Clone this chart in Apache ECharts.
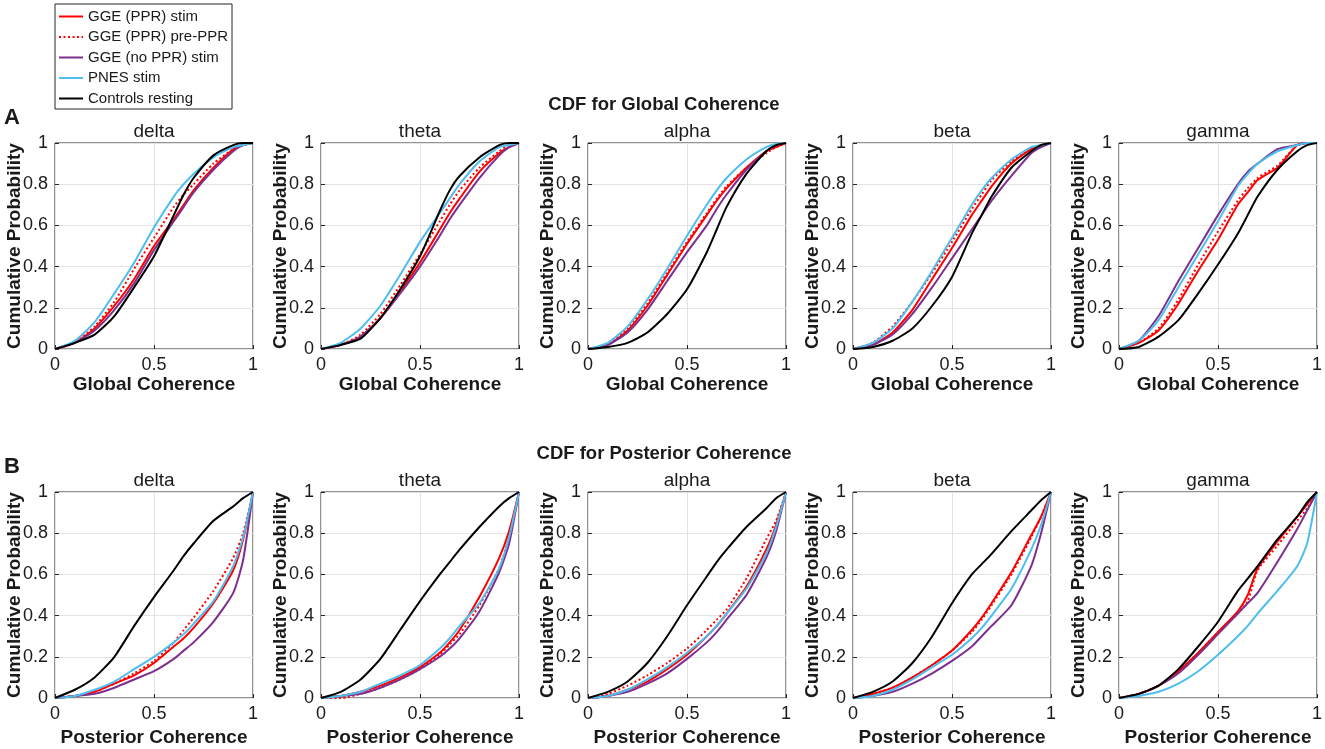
<!DOCTYPE html>
<html style="height: 100%">
    <head>
        <title>CDF for Global and Posterior Coherence</title>
        <meta charset="utf-8">
    </head>
    <body style="height: 100%; margin: 0; background: #fff">
        <div id="container" style="height: 100%"></div>

        <script type="text/javascript" src="https://cdn.jsdelivr.net/npm/echarts@6.0.0/dist/echarts.min.js"></script>
        <script type="text/javascript">
            // coherence values where each CDF was read
            var xs = [0, 0.1, 0.2, 0.3, 0.4, 0.5, 0.6, 0.65, 0.7, 0.8, 0.9, 0.95, 1];
            var bands = ['delta', 'theta', 'alpha', 'beta', 'gamma'];
            var groups = ['GGE (PPR) stim', 'GGE (PPR) pre-PPR', 'GGE (no PPR) stim', 'PNES stim', 'Controls resting'];
            var colors = ['#ff0000', '#ff0000', '#7e2f8e', '#4dbeee', '#000000'];
            var dashes = ['solid', [2, 2.5], 'solid', 'solid', 'solid'];
            var xTicks = [0, 0.5, 1];

            // row A: global coherence, one row per group (same order as groups)
            var globalDelta = [
                [0, .03, .10, .21, .34, .50, .63, .70, .77, .88, .97, .99, 1],
                [0, .03, .11, .23, .39, .54, .69, .75, .80, .90, .97, .99, 1],
                [0, .03, .09, .19, .32, .48, .62, .69, .76, .87, .96, .99, 1],
                [0, .04, .13, .27, .42, .59, .74, .80, .85, .93, .98, .99, 1],
                [0, .03, .07, .16, .30, .45, .65, .75, .83, .94, .99, 1, 1]
            ];
            var globalTheta = [
                [0, .02, .06, .15, .28, .42, .58, .66, .73, .86, .95, .98, 1],
                [0, .02, .07, .17, .31, .46, .62, .70, .77, .88, .96, .99, 1],
                [0, .02, .06, .15, .27, .40, .55, .63, .70, .83, .94, .98, 1],
                [0, .03, .10, .21, .36, .52, .66, .73, .80, .91, .98, .99, 1],
                [0, .02, .05, .15, .29, .45, .67, .77, .84, .93, .99, 1, 1]
            ];
            var globalAlpha = [
                [0, .02, .09, .21, .36, .51, .65, .72, .78, .88, .96, .98, 1],
                [0, .02, .10, .22, .37, .52, .66, .73, .79, .88, .95, .98, 1],
                [0, .02, .08, .19, .33, .47, .60, .68, .75, .87, .96, .99, 1],
                [0, .03, .11, .24, .39, .55, .70, .77, .83, .92, .98, .995, 1],
                [0, .01, .03, .08, .17, .29, .47, .58, .69, .85, .96, .99, 1]
            ];
            var globalBeta = [
                [0, .02, .08, .19, .34, .49, .65, .72, .79, .90, .97, .99, 1],
                [0, .03, .11, .23, .37, .52, .68, .75, .82, .91, .97, .99, 1],
                [0, .02, .07, .17, .30, .44, .58, .65, .72, .84, .95, .98, 1],
                [0, .03, .10, .23, .38, .54, .70, .77, .83, .92, .98, .99, 1],
                [0, .01, .04, .10, .21, .35, .56, .65, .74, .88, .96, .99, 1]
            ];
            var globalGamma = [
                [0, .03, .09, .22, .38, .53, .70, .76, .82, .88, .99, 1, 1],
                [0, .03, .10, .24, .41, .57, .72, .78, .83, .89, .99, 1, 1],
                [0, .04, .16, .33, .49, .65, .80, .86, .90, .97, .99, 1, 1],
                [0, .04, .14, .30, .46, .62, .79, .85, .90, .96, .99, 1, 1],
                [0, .01, .06, .14, .27, .41, .56, .65, .74, .87, .96, .99, 1]
            ];

            // row B: posterior coherence
            var posteriorDelta = [
                [0, .01, .03, .07, .11, .17, .25, .29, .34, .46, .62, .77, 1],
                [0, .01, .03, .07, .12, .18, .27, .33, .39, .52, .68, .80, 1],
                [0, .01, .02, .05, .09, .13, .19, .23, .27, .37, .51, .67, 1],
                [0, .01, .04, .08, .14, .20, .27, .31, .36, .47, .64, .78, 1],
                [0, .04, .10, .20, .35, .49, .62, .69, .75, .86, .93, .97, 1]
            ];
            var posteriorTheta = [
                [0, .01, .03, .06, .10, .15, .22, .27, .33, .49, .68, .81, 1],
                [0, .00, .02, .05, .09, .14, .21, .26, .31, .45, .63, .78, 1],
                [0, .01, .02, .05, .09, .14, .20, .24, .29, .42, .61, .75, 1],
                [0, .01, .03, .07, .11, .16, .24, .29, .35, .46, .63, .78, 1],
                [0, .03, .09, .19, .33, .47, .60, .66, .72, .83, .93, .97, 1]
            ];
            var posteriorAlpha = [
                [0, .01, .04, .08, .14, .21, .30, .35, .41, .54, .72, .84, 1],
                [0, .02, .06, .11, .17, .24, .33, .38, .43, .58, .77, .86, 1],
                [0, .01, .03, .07, .12, .19, .27, .32, .38, .50, .68, .81, 1],
                [0, .01, .04, .09, .15, .22, .30, .35, .41, .53, .70, .83, 1],
                [0, .03, .08, .17, .30, .45, .59, .66, .72, .83, .92, .97, 1]
            ];
            var posteriorBeta = [
                [0, .02, .05, .10, .16, .23, .33, .39, .46, .61, .79, .88, 1],
                [0, .02, .05, .10, .16, .23, .32, .38, .45, .60, .78, .88, 1],
                [0, .01, .03, .07, .12, .18, .25, .30, .35, .45, .64, .80, 1],
                [0, .01, .04, .09, .15, .21, .29, .34, .40, .53, .72, .84, 1],
                [0, .03, .08, .17, .30, .46, .60, .65, .70, .81, .91, .96, 1]
            ];
            var posteriorGamma = [
                [0, .02, .06, .13, .22, .32, .42, .50, .63, .76, .88, .94, 1],
                [0, .02, .06, .13, .22, .32, .41, .47, .62, .74, .86, .92, 1],
                [0, .02, .06, .12, .21, .31, .41, .46, .51, .66, .82, .91, 1],
                [0, .01, .03, .07, .13, .21, .30, .35, .41, .52, .64, .75, 1],
                [0, .02, .06, .14, .25, .37, .52, .58, .64, .77, .88, .95, 1]
            ];

            var rows = [
                { panels: [globalDelta, globalTheta, globalAlpha, globalBeta, globalGamma],
                  xName: 'Global Coherence', title: 'CDF for Global Coherence', letter: 'A', nameGap: 26 },
                { panels: [posteriorDelta, posteriorTheta, posteriorAlpha, posteriorBeta, posteriorGamma],
                  xName: 'Posterior Coherence', title: 'CDF for Posterior Coherence', letter: 'B', nameGap: 30 }
            ];

            var font = "'Liberation Sans', Arial, sans-serif";
            var ink = '#1a1a1a';
            var lefts = [55, 321, 588, 853, 1119];
            var tops = [143, 492];
            var plotW = 198, plotH = 206;

            var dom = document.getElementById("container");
            var myChart = echarts.init(dom);

            var grid = [], xAxis = [], yAxis = [], series = [], title = [];
            var idx = 0;
            rows.forEach(function (row, r) {
                title.push({ text: row.title, left: 664, top: tops[r] - 48, textAlign: 'center', padding: 0,
                    textStyle: { fontFamily: font, fontSize: 18.5, fontWeight: 'bold', color: ink } });
                title.push({ text: row.letter, left: 4, top: tops[r] - 36, padding: 0,
                    textStyle: { fontFamily: font, fontSize: 22, fontWeight: 'bold', color: ink } });
                row.panels.forEach(function (panel, c) {
                    grid.push({ left: lefts[c], top: tops[r], width: plotW, height: plotH,
                        show: true, borderColor: '#262626', borderWidth: 1, backgroundColor: '#fff' });
                    title.push({ text: bands[c], left: lefts[c] + plotW / 2, top: tops[r] - 21, textAlign: 'center', padding: 0,
                        textStyle: { fontFamily: font, fontSize: 19, fontWeight: 'normal', color: ink } });
                    xAxis.push({
                        type: 'value', gridIndex: idx, min: 0, max: 1, interval: 0.5,
                        name: row.xName, nameLocation: 'middle', nameGap: row.nameGap, nameMoveOverlap: false,
                        nameTextStyle: { fontFamily: font, fontSize: 19, fontWeight: 'bold', color: ink },
                        axisLine: { show: false },
                        axisTick: { show: true, inside: true, length: 4, lineStyle: { color: '#262626' } },
                        axisLabel: { fontFamily: font, fontSize: 18, color: ink, margin: 7,
                            customValues: xTicks },
                        splitLine: { show: true, lineStyle: { color: '#e3e3e3', width: 1 } }
                    });
                    yAxis.push({
                        type: 'value', gridIndex: idx, min: 0, max: 1, interval: 0.2,
                        name: 'Cumulative Probability', nameLocation: 'middle', nameGap: 31, nameMoveOverlap: false,
                        nameTextStyle: { fontFamily: font, fontSize: 19, fontWeight: 'bold', color: ink },
                        axisLine: { show: false },
                        axisTick: { show: true, inside: true, length: 4, lineStyle: { color: '#262626' } },
                        axisLabel: { fontFamily: font, fontSize: 18, color: ink, margin: 7 },
                        splitLine: { show: true, lineStyle: { color: '#e3e3e3', width: 1 } }
                    });
                    panel.forEach(function (vals, g) {
                        series.push({
                            name: groups[g],
                            type: 'line',
                            xAxisIndex: idx,
                            yAxisIndex: idx,
                            data: xs.map(function (x, k) { return [x, vals[k]]; }),
                            symbol: 'none',
                            smooth: 0.2,
                            silent: true,
                            color: colors[g],
                            lineStyle: { color: colors[g], width: 2, type: dashes[g] }
                        });
                    });
                    idx++;
                });
            });

            var option = {
                animation: false,
                backgroundColor: '#fff',
                title: title,
                legend: {
                    data: groups,
                    orient: 'vertical',
                    left: 55,
                    top: 4,
                    padding: [5, 4, 3, 3],
                    itemWidth: 24,
                    itemHeight: 14,
                    itemGap: 5.5,
                    borderColor: '#262626',
                    borderWidth: 1,
                    backgroundColor: '#fff',
                    itemStyle: { color: 'transparent', borderColor: 'transparent', borderWidth: 0 },
                    textStyle: { fontFamily: font, fontSize: 15, color: ink }
                },
                grid: grid,
                xAxis: xAxis,
                yAxis: yAxis,
                series: series
            };

            myChart.setOption(option);
            window.onresize = function () {
                myChart.resize();
            };
        </script>
    </body>
</html>
